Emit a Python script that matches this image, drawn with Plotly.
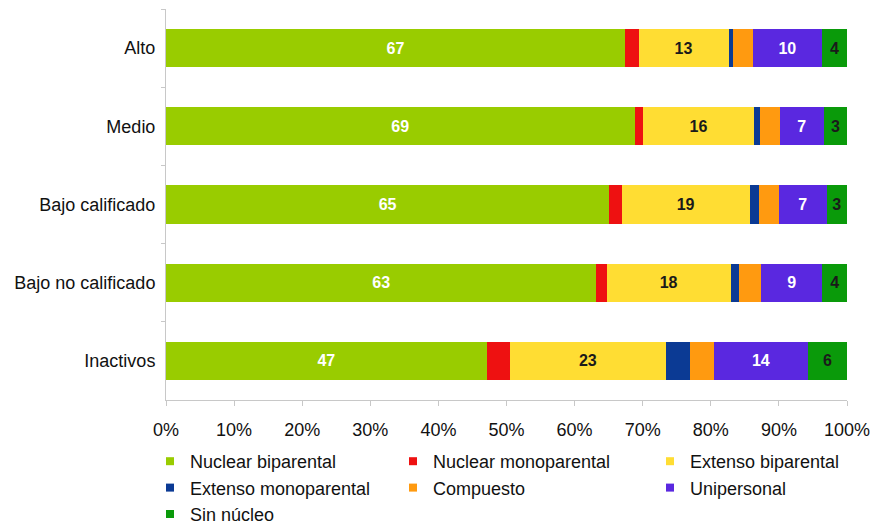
import plotly.graph_objects as go

categories = ["Alto", "Medio", "Bajo calificado", "Bajo no calificado", "Inactivos"]

series_names = ["Nuclear biparental", "Nuclear monoparental", "Extenso biparental",
                "Extenso monoparental", "Compuesto", "Unipersonal", "Sin núcleo"]

nuclear_biparental = [67.4, 68.8, 65.1, 63.2, 47.1]
nuclear_monoparental = [2.0, 1.2, 1.8, 1.5, 3.4]
extenso_biparental = [13.2, 16.4, 18.8, 18.2, 22.9]
extenso_monoparental = [0.6, 0.8, 1.4, 1.3, 3.6]
compuesto = [3.0, 2.9, 2.9, 3.2, 3.4]
unipersonal = [10.1, 6.5, 7.0, 9.0, 13.9]
sin_nucleo = [3.7, 3.4, 3.0, 3.6, 5.7]

# labels printed on the bars (blank = not labelled)
lab_nuclear_biparental = ["67", "69", "65", "63", "47"]
lab_extenso_biparental = ["13", "16", "19", "18", "23"]
lab_unipersonal = ["10", "7", "7", "9", "14"]
lab_sin_nucleo = ["4", "3", "3", "4", "6"]
blank = ["", "", "", "", ""]

values = [nuclear_biparental, nuclear_monoparental, extenso_biparental,
          extenso_monoparental, compuesto, unipersonal, sin_nucleo]
labels = [lab_nuclear_biparental, blank, lab_extenso_biparental, blank, blank,
          lab_unipersonal, lab_sin_nucleo]
colors = ["#99CC00", "#EE1111", "#FFDD33", "#0B3A94", "#FF9A10", "#5A28E0", "#0A9A0A"]
text_colors = ["#FFFFFF", "#FFFFFF", "#1A1A1A", "#FFFFFF", "#FFFFFF", "#FFFFFF", "#1A1A1A"]
legend_ids = ["legend", "legend2", "legend3", "legend", "legend2", "legend3", "legend"]

FONT = "Liberation Sans, Arial, sans-serif"
FS = 18

fig = go.Figure()
for name, vals, labs, col, tcol in zip(series_names, values, labels, colors, text_colors):
    fig.add_trace(go.Bar(
        y=categories, x=vals, orientation="h", name=name,
        marker=dict(color=col, line=dict(width=0)),
        text=labs, textposition="inside", insidetextanchor="middle", textangle=0,
        textfont=dict(color=tcol, size=16, family=FONT, weight="bold"),
        hoverinfo="skip", showlegend=False,
    ))

# legend entries with small square markers
for i, (name, col, lg) in enumerate(zip(series_names, colors, legend_ids)):
    fig.add_trace(go.Scatter(
        x=[None], y=[None], mode="markers", name=name,
        marker=dict(symbol="square", size=8, color=col),
        legend=lg, legendgroup=name, showlegend=True,
    ))

W, H = 872, 529
L, R, T, B = 166, 25, 9, 129
pw, ph = W - L - R, H - T - B

def px_x(p):
    return (p - L) / pw

def px_y(p):
    return (H - B - p) / ph

leg_common = dict(orientation="v", bgcolor="rgba(0,0,0,0)", borderwidth=0,
                  font=dict(family=FONT, size=FS, color="#111111"),
                  itemwidth=30, traceorder="grouped", tracegroupgap=0,
                  xanchor="left", yanchor="top")

fig.update_layout(
    width=W, height=H,
    margin=dict(l=L, r=R, t=T, b=B, autoexpand=False),
    barmode="stack", bargap=0.51,
    plot_bgcolor="white", paper_bgcolor="white",
    font=dict(family=FONT, size=FS, color="#111111"),
    legend=dict(x=px_x(150), y=px_y(443), **leg_common),
    legend2=dict(x=px_x(393), y=px_y(443), **leg_common),
    legend3=dict(x=px_x(650), y=px_y(443), **leg_common),
    xaxis=dict(range=[0, 100], dtick=10, ticksuffix="%", showgrid=False, zeroline=False,
               showline=True, linecolor="#C8C8C8", linewidth=1,
               ticks="outside", ticklen=5, tickcolor="#C8C8C8",
               ticklabelstandoff=8, ticklabeloverflow="allow",
               tickfont=dict(family=FONT, size=FS, color="#111111")),
    yaxis=dict(type="category", categoryorder="array", categoryarray=categories,
               range=[4.5, -0.5], showgrid=False, zeroline=False,
               showline=True, linecolor="#C8C8C8", linewidth=1,
               ticks="outside", ticklen=4, tickcolor="#C8C8C8", tickson="boundaries",
               ticklabelstandoff=6,
               tickfont=dict(family=FONT, size=FS, color="#111111")),
)

fig.write_html(
    "out.html",
    config={"displayModeBar": False},
    post_script="document.body.style.margin='0';document.documentElement.style.overflow='hidden';",
)
